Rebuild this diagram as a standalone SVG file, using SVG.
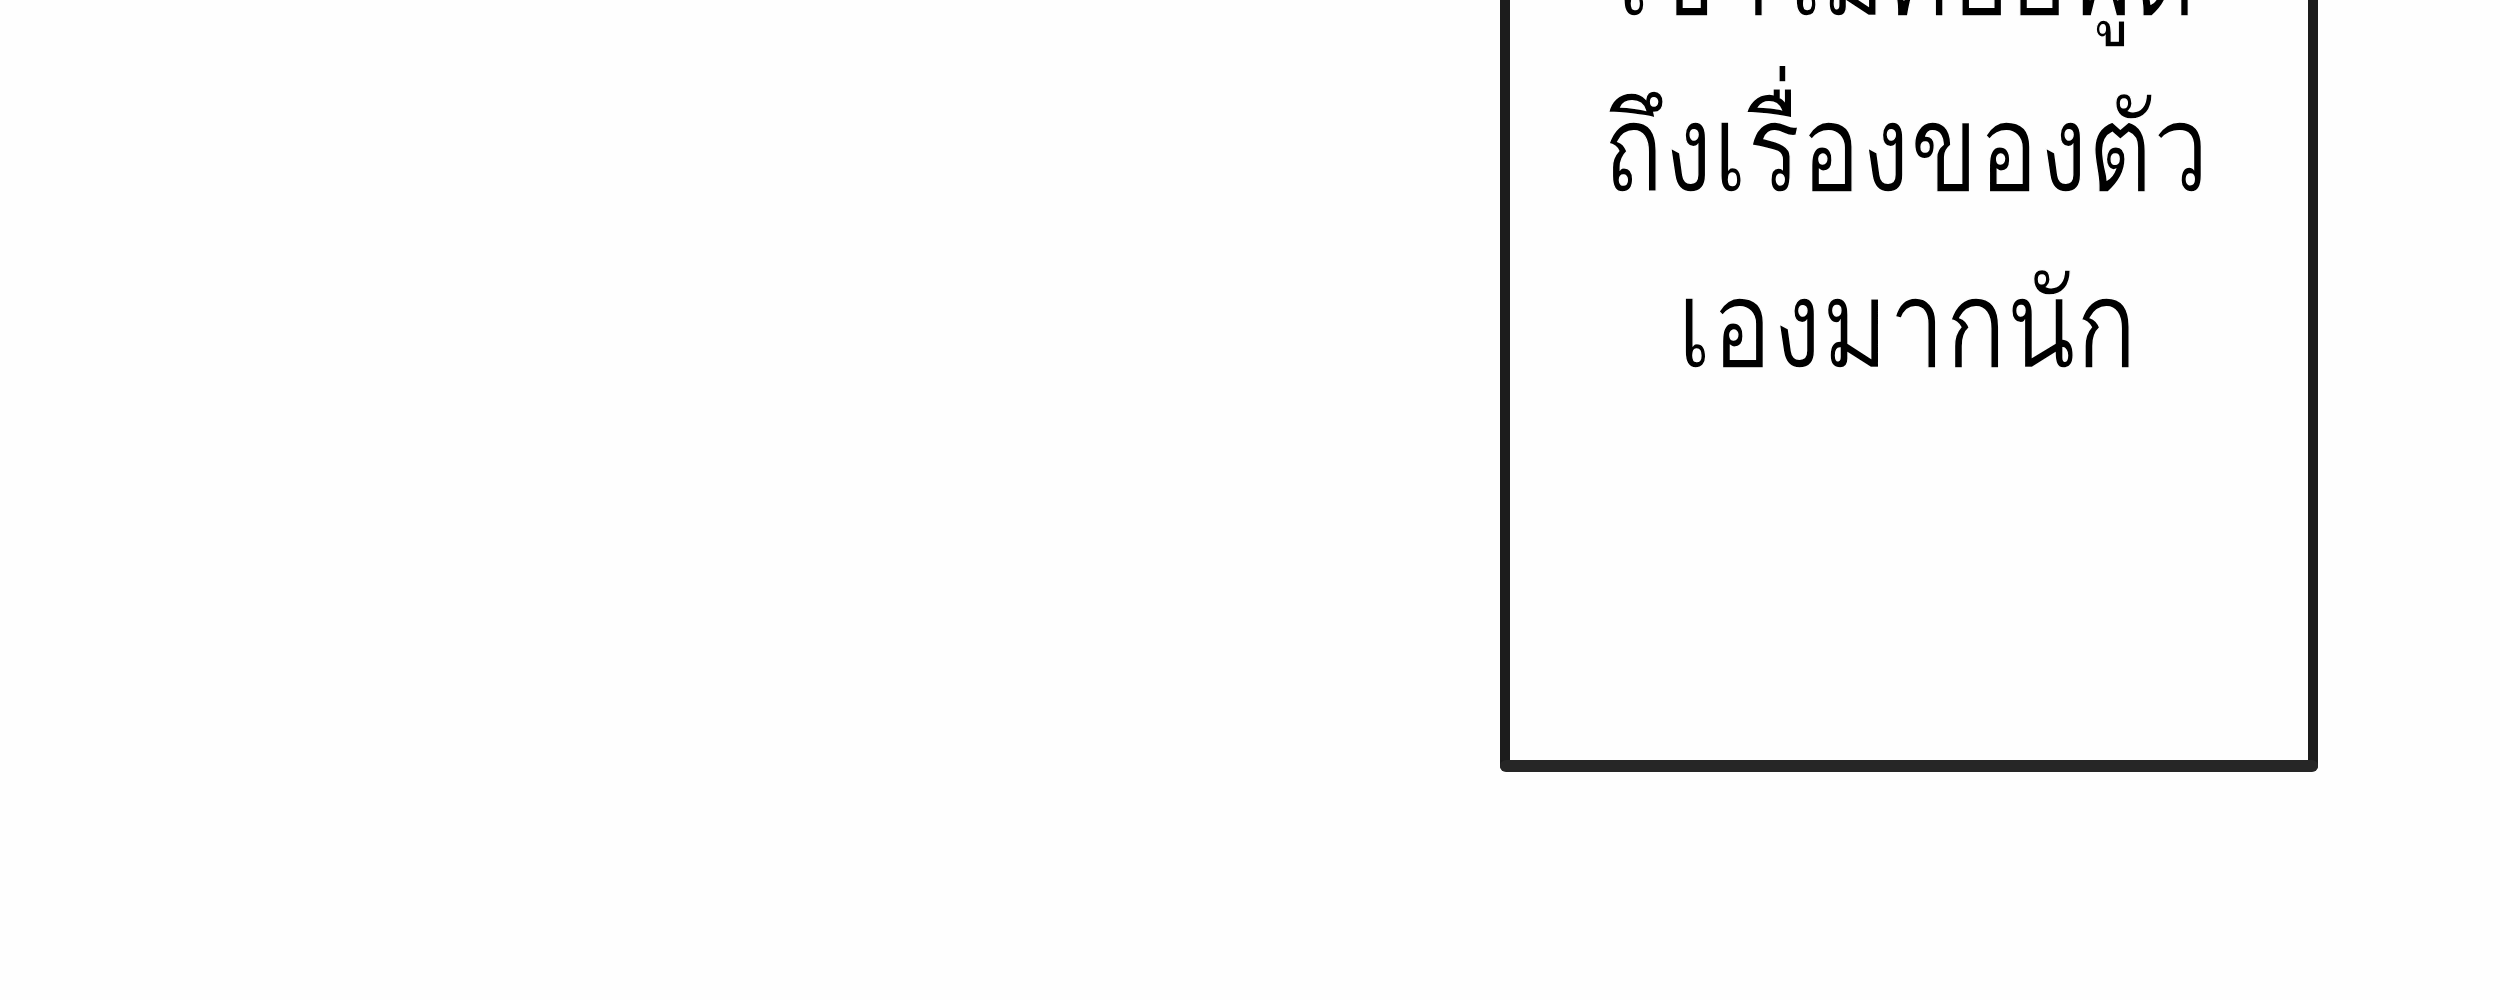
<svg xmlns="http://www.w3.org/2000/svg" width="2500" height="1000" viewBox="0 0 2500 1000">
<style>
.bg{fill:#fefefe}
.panel{fill:#fefefe;stroke:#1c1c1c;stroke-width:10;stroke-linejoin:round}
.bottom{stroke:#262626;stroke-width:12;stroke-linecap:round}
.t{font-family:Loma,'DejaVu Sans','Noto Sans',sans-serif;font-size:122px;fill:#000;text-anchor:middle;stroke:#fefefe;stroke-width:1.5px}
</style>
<rect class="bg" x="0" y="0" width="2500" height="1000"/>
<g id="speech-box">
<rect class="panel" x="1505" y="-20" width="808" height="786"/>
<line class="bottom" x1="1506" y1="766" x2="2312" y2="766"/>
<text class="t" x="1906" y="15" textLength="580" lengthAdjust="spacingAndGlyphs">เขาไม่ค่อยพูด</text>
<text class="t" x="1906" y="191" textLength="606" lengthAdjust="spacingAndGlyphs">ถึงเรื่องของตัว</text>
<text class="t" x="1907" y="367" textLength="460" lengthAdjust="spacingAndGlyphs">เองมากนัก</text>
</g>
<g id="connectors"/>
</svg>
